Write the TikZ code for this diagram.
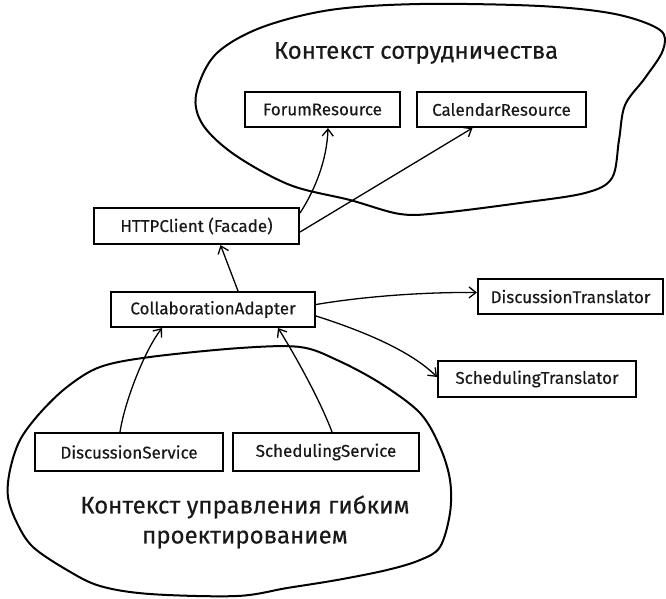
\documentclass[tikz,border=0pt]{standalone}
\usepackage{fontspec}
\setmainfont{Fira Sans}[FakeBold=0.4]
\usetikzlibrary{arrows.meta,calc}

\tikzset{
  box/.style={draw=black, line width=2pt, rectangle, inner sep=0pt,
    font=\fontsize{17}{20}\selectfont, text=black!90},
  cloud line/.style={draw=black, line width=2pt, line join=round},
  link/.style={draw=black, line width=1.3pt,
    -{Straight Barb[length=7pt,width=11pt,line width=1.3pt]}},
  title/.style={font=\fontsize{24}{30}\selectfont, text=black!90, align=center}
}

\begin{document}
\begin{tikzpicture}[x=1pt,y=-1pt]
\useasboundingbox (0,0) rectangle (666,598);

% bounded-context outlines
\draw[cloud line] plot[smooth cycle, tension=0.55] coordinates {
  (196,95) (215,55) (260,28) (330,10) (420,4) (540,6) (615,14) (660,30)
  (663,50) (645,78) (625,105) (619,140) (612,178) (585,193) (520,203)
  (440,213) (400,214) (350,200) (290,185) (235,155) (203,125)};
\draw[cloud line] plot[smooth cycle, tension=0.55] coordinates {
  (240,348) (300,347) (337,360) (380,383) (420,413) (440,447) (450,480)
  (450,513) (440,547) (420,560) (387,570) (337,580) (287,588) (237,596)
  (150,594) (100,586) (67,570) (33,547) (17,523) (8,497) (10,470)
  (20,440) (40,413) (67,387) (100,367) (150,357)};

% context titles
\node[title] (collab) at (416,53) {Контекст сотрудничества};
\node[title] (agile) at (245,522) {Контекст управления гибким\\проектированием};

% components
\node[box, minimum width=155pt, minimum height=35pt] (forum) at (322.5,109.5) {ForumResource};
\node[box, minimum width=169pt, minimum height=35pt] (calendar) at (501.5,109.5) {CalendarResource};
\node[box, minimum width=205pt, minimum height=36pt] (http) at (196.5,226) {HTTPClient (Facade)};
\node[box, minimum width=204pt, minimum height=35pt] (adapter) at (213,309.5) {CollaborationAdapter};
\node[box, minimum width=185pt, minimum height=35pt] (dtrans) at (570.5,296.5) {DiscussionTranslator};
\node[box, minimum width=198pt, minimum height=36pt] (strans) at (537,379) {SchedulingTranslator};
\node[box, minimum width=188pt, minimum height=38pt] (dserv) at (129,452) {DiscussionService};
\node[box, minimum width=186pt, minimum height=38pt] (sserv) at (326,452) {SchedulingService};

% dependencies
\draw[link] ($(adapter.north)+(25,0)$) -- ($(http.south)+(24,0)$);
\draw[link] ($(http.east)+(0,-13)$) .. controls (315,190) and (327,160) .. ($(forum.south)+(5.5,0)$);
\draw[link] ($(http.east)+(0,6)$) -- ($(calendar.south)+(-29,0)$);
\draw[link] ($(adapter.east)+(0,-5)$) .. controls (360,297) and (420,292) .. ($(dtrans.west)+(0,-4)$);
\draw[link] ($(adapter.east)+(0,6.5)$) .. controls (360,330) and (410,350) .. ($(strans.west)+(0,-2)$);
\draw[link] ($(dserv.north)+(-9,0)$) .. controls (125,400) and (145,350) .. ($(adapter.south)+(-51,0)$);
\draw[link] ($(sserv.north)+(6,0)$) .. controls (320,400) and (295,355) .. ($(adapter.south)+(65,0)$);
\end{tikzpicture}
\end{document}
